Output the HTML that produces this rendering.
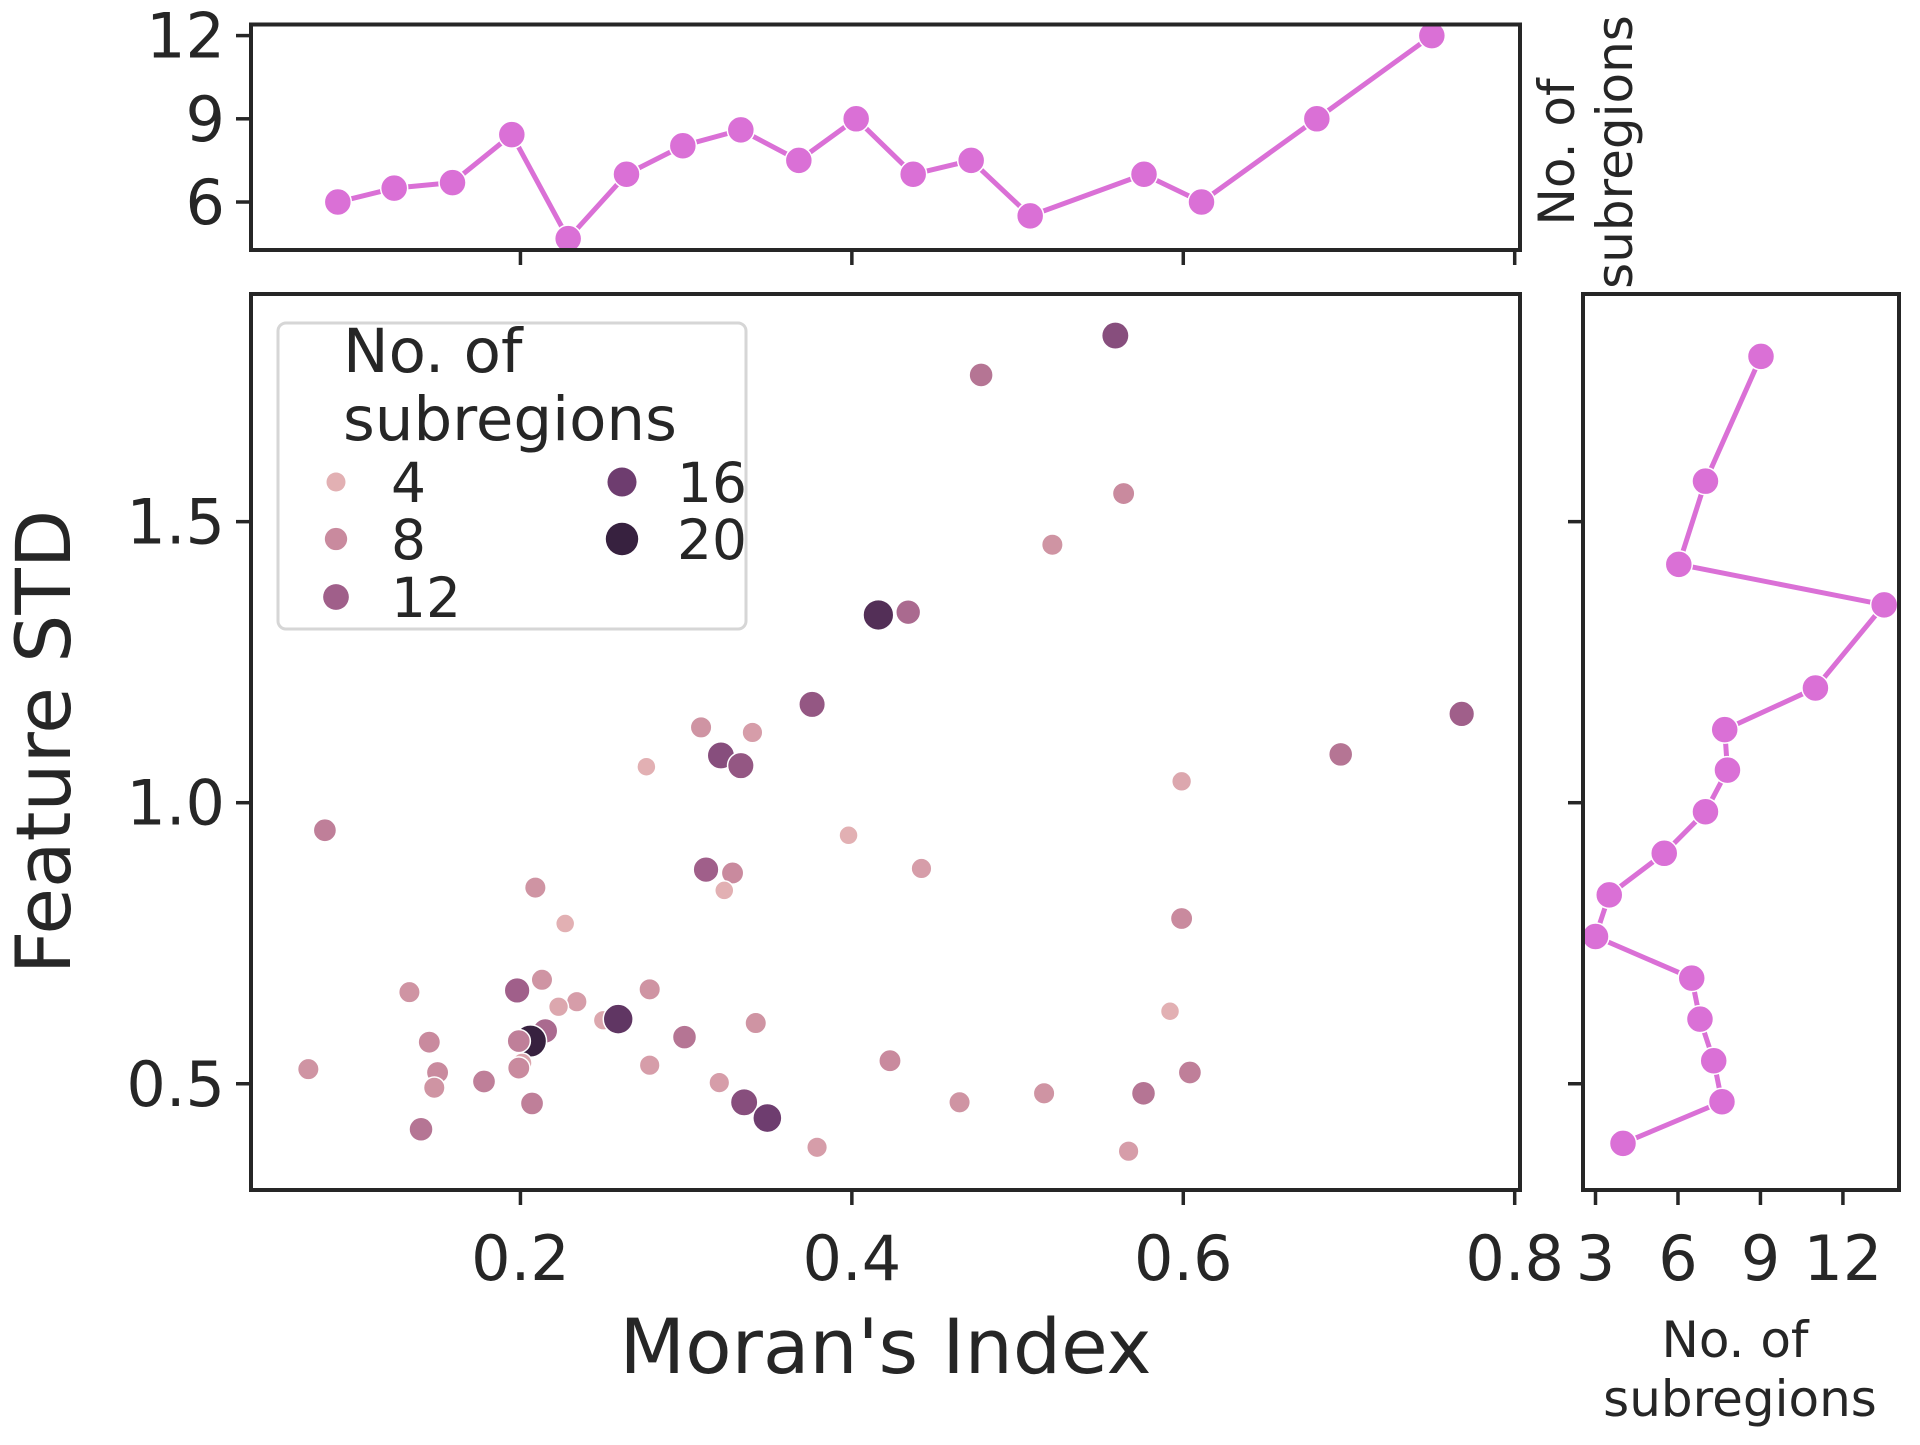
<!DOCTYPE html>
<html><head><meta charset="utf-8"><style>
html,body{margin:0;padding:0;background:#fff}
svg text{font-family:"DejaVu Sans","Liberation Sans",sans-serif;fill:#262626}
</style></head><body>
<svg id="fig" width="1920" height="1440" viewBox="0 0 1920 1440" xmlns="http://www.w3.org/2000/svg"></svg>
<script>
const scatterX=[0.559,0.478,0.564,0.521,0.416,0.434,0.376,0.768,0.695,0.309,0.340,0.276,0.321,0.333,0.599,0.082,0.398,0.442,0.312,0.328,0.209,0.323,0.227,0.599,0.133,0.198,0.213,0.278,0.234,0.223,0.592,0.250,0.259,0.342,0.215,0.206,0.199,0.145,0.299,0.201,0.199,0.072,0.150,0.278,0.423,0.604,0.178,0.148,0.320,0.516,0.576,0.465,0.207,0.335,0.349,0.140,0.379,0.567];
const scatterY=[1.831,1.761,1.550,1.459,1.334,1.339,1.175,1.158,1.086,1.134,1.125,1.064,1.084,1.066,1.038,0.951,0.942,0.883,0.881,0.875,0.849,0.844,0.785,0.794,0.663,0.666,0.685,0.668,0.646,0.637,0.629,0.613,0.615,0.608,0.594,0.576,0.576,0.574,0.583,0.537,0.528,0.526,0.520,0.533,0.541,0.520,0.504,0.493,0.502,0.483,0.483,0.467,0.465,0.467,0.439,0.419,0.387,0.380];
const scatterN=[14,10,8,7,18,11,13,12,10,7,6,4,14,13,5,9,4,6,12,8,7,4,4,8,7,12,7,7,6,5,4,5,17,7,11,20,9,8,10,5,8,7,8,6,8,9,9,7,6,7,10,7,9,14,16,10,6,6];
const topX=[0.0898,0.1238,0.159,0.1948,0.2288,0.264,0.298,0.333,0.368,0.4026,0.437,0.472,0.5076,0.5763,0.611,0.6806,0.750];
const topN=[6.0,6.5,6.7,8.43,4.68,7.0,8.03,8.6,7.5,9.0,7.0,7.5,5.5,7.0,6.0,9.0,12.0];
const rightY=[1.794,1.572,1.424,1.352,1.204,1.130,1.058,0.984,0.910,0.836,0.762,0.688,0.615,0.541,0.468,0.394];
const rightN=[9.02,7.0,6.03,13.5,11.0,7.7,7.8,7.0,5.5,3.5,3.0,6.5,6.8,7.3,7.6,4.0];
const xTicks=[0.2,0.4,0.6,0.8];
const xTickLabels=["0.2","0.4","0.6","0.8"];
const yTicks=[0.5,1.0,1.5];
const yTickLabels=["0.5","1.0","1.5"];
const topTicks=[6,9,12];
const rightTicks=[3,6,9,12];
const legendN=[4,8,12,16,20];

const NS="http://www.w3.org/2000/svg";
const svg=document.getElementById('fig');
function mk(tag,attrs,parent){const e=document.createElementNS(NS,tag);for(const k in attrs)e.setAttribute(k,attrs[k]);(parent||svg).appendChild(e);return e;}
const M={l:251,r:1520,t:294,b:1190}, T={t:24.5,b:250}, R={l:1583,r:1899};
const xs=v=>M.l+(v-0.0374)/(0.8032-0.0374)*(M.r-M.l);
const ys=v=>M.b-(v-0.311)/(1.905-0.311)*(M.b-M.t);
const tys=v=>T.b-(v-4.27)/(12.4-4.27)*(T.b-T.t);
const rxs=v=>R.l+(v-2.545)/(14.04-2.545)*(R.r-R.l);
const stops=[[4,[226,176,179]],[8,[201,138,158]],[12,[160,95,138]],[16,[110,61,111]],[20,[55,33,63]]];
function col(n){n=Math.max(4,Math.min(20,n));for(let i=0;i<4;i++){const a=stops[i],b=stops[i+1];if(n<=b[0]){const t=(n-a[0])/(b[0]-a[0]);const c=a[1].map((x,j)=>Math.round(x+(b[1][j]-x)*t));return `rgb(${c})`;}}return 'rgb(55,33,63)';}
const rad=n=>9.5+(Math.max(4,n)-4)/16*6.7;
const LC='#262626', mag='#da70d6';

const gm=mk('g',{});


scatterX.forEach((x,i)=>{const c=mk('circle',{cx:xs(x),cy:ys(scatterY[i]),r:rad(scatterN[i]),fill:col(scatterN[i]),stroke:'#fff','stroke-width':1.5},gm);

});
const gt=mk('g',{});


mk('polyline',{points:topX.map((x,i)=>xs(x)+','+tys(topN[i])).join(' '),fill:'none',stroke:mag,'stroke-width':5},gt);
topX.forEach((x,i)=>{const c=mk('circle',{cx:xs(x),cy:tys(topN[i]),r:13.5,fill:mag,stroke:'#fff','stroke-width':1.5},gt);

});
const gr=mk('g',{});


mk('polyline',{points:rightY.map((y,i)=>rxs(rightN[i])+','+ys(y)).join(' '),fill:'none',stroke:mag,'stroke-width':5},gr);
rightY.forEach((y,i)=>{const c=mk('circle',{cx:rxs(rightN[i]),cy:ys(y),r:13.5,fill:mag,stroke:'#fff','stroke-width':1.5},gr);

});

function frame(x,y,w,h,name){const r=mk('rect',{x,y,width:w,height:h,fill:'none',stroke:LC,'stroke-width':4});}
frame(M.l,M.t,M.r-M.l,M.b-M.t,'main-plot-frame');
frame(M.l,T.t,M.r-M.l,T.b-T.t,'top-plot-frame');
frame(R.l,M.t,R.r-R.l,M.b-M.t,'right-plot-frame');

function txt(x,y,s,size,anchor,name,extra){const t=mk('text',Object.assign({x,y,'font-size':size,'text-anchor':anchor||'middle'},extra||{}));t.textContent=s;return t;}
const TL=15;
xTicks.forEach((v,i)=>{mk('line',{x1:xs(v),x2:xs(v),y1:M.b,y2:M.b+TL,stroke:LC,'stroke-width':3.5});
mk('line',{x1:xs(v),x2:xs(v),y1:T.b,y2:T.b+TL,stroke:LC,'stroke-width':3.5});
txt(xs(v),M.b+90,xTickLabels[i],62,'middle','x-tick-label');});
yTicks.forEach((v,i)=>{mk('line',{x1:M.l,x2:M.l-TL,y1:ys(v),y2:ys(v),stroke:LC,'stroke-width':3.5});
mk('line',{x1:R.l,x2:R.l-TL,y1:ys(v),y2:ys(v),stroke:LC,'stroke-width':3.5});
txt(M.l-26,ys(v)+22,yTickLabels[i],62,'end','y-tick-label');});
topTicks.forEach(v=>{mk('line',{x1:M.l,x2:M.l-TL,y1:tys(v),y2:tys(v),stroke:LC,'stroke-width':3.5});
txt(M.l-26,tys(v)+22,String(v),62,'end','top-y-tick-label');});
rightTicks.forEach(v=>{mk('line',{x1:rxs(v),x2:rxs(v),y1:M.b,y2:M.b+TL,stroke:LC,'stroke-width':3.5});
txt(rxs(v),M.b+90,String(v),62,'middle','right-x-tick-label');});

txt((M.l+M.r)/2,1373,"Moran's Index",76,'middle','x-axis-title');
txt(0,0,"Feature STD",76,'middle','y-axis-title',{transform:`translate(70,${(M.t+M.b)/2}) rotate(-90)`});
txt(1735,1357,"No. of",50,'middle','right-x-axis-title-line1');
txt(1740,1416,"subregions",50,'middle','right-x-axis-title-line2');
txt(0,0,"No. of",50,'middle','top-y-axis-title-line1',{transform:`translate(1574,152) rotate(-90)`});
txt(0,0,"subregions",50,'middle','top-y-axis-title-line2',{transform:`translate(1632,152) rotate(-90)`});

const lg=mk('g',{});


const lr=mk('rect',{x:278,y:323,width:468,height:306,rx:8,fill:'#fff','fill-opacity':0.85,stroke:'#d6d6d6','stroke-width':3},lg);


const lt1=mk('text',{x:343,y:372,'font-size':61},lg);lt1.textContent='No. of';


const lt2=mk('text',{x:343,y:440,'font-size':61},lg);lt2.textContent='subregions';


const lpos=[[336,482],[336,539],[336,597],[622,482],[622,539]];
legendN.forEach((n,i)=>{const [cx,cy]=lpos[i];
const c=mk('circle',{cx,cy,r:rad(n),fill:col(n)},lg);


const t=mk('text',{x:cx+55,y:cy+20,'font-size':55},lg);t.textContent=String(n);

});
</script>
</body></html>
